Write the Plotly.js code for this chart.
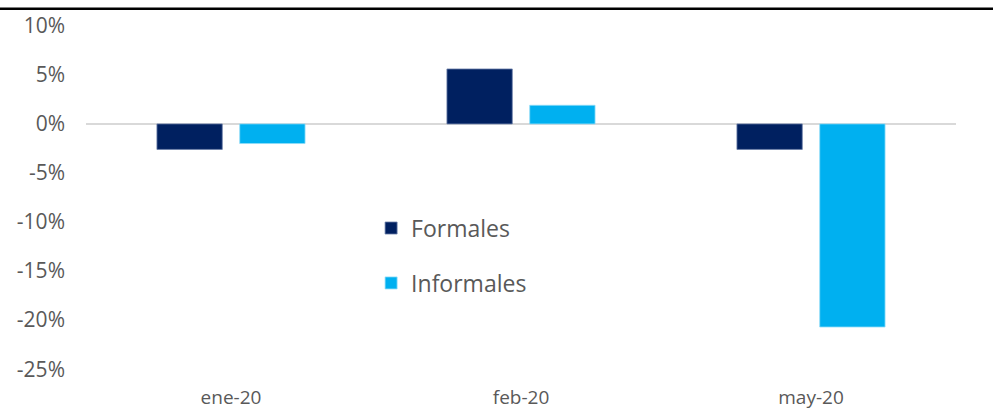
<!DOCTYPE html>
<html>
<head>
<meta charset="utf-8">
<script src="https://cdn.plot.ly/plotly-3.0.1.min.js"></script>
<style>html,body{margin:0;padding:0;background:#fff;}#chart{width:997px;height:411px;}</style>
</head>
<body>
<div id="chart"></div>
<script>
var categories = ["ene-20", "feb-20", "may-20"];
var formales = [-2.6, 5.6, -2.6];
var informales = [-2.0, 1.9, -20.7];
var yTickVals = [10, 5, 0, -5, -10, -15, -20, -25];
var yTickText = ["10%", "5%", "0%", "-5%", "-10%", "-15%", "-20%", "-25%"];

var fontFam = "'Open Sans', 'Noto Sans', sans-serif";

var traces = [
  {type: "bar", name: "Formales", x: categories, y: formales, legendgroup: "a",
   marker: {color: "#002060", line: {color: "#6b7fa8", width: 0.8}}, hoverinfo: "none"},
  {type: "bar", name: "Informales", x: categories, y: informales, legendgroup: "b",
   marker: {color: "#00B0F0", line: {color: "#8fdcf8", width: 0.8}}, hoverinfo: "none"}
];

var layout = {
  width: 997, height: 411,
  margin: {l: 86, r: 41, t: 16, b: 32, pad: 0},
  paper_bgcolor: "#fff", plot_bgcolor: "#fff",
  font: {family: fontFam, color: "#595959", size: 18},
  barmode: "group", bargap: 0.429, bargroupgap: 0.211,
  showlegend: true,
  legend: {x: 0.3277, y: 0.34, xanchor: "left", yanchor: "middle", traceorder: "grouped",
           tracegroupgap: 22, font: {size: 23, color: "#595959", family: fontFam},
           bgcolor: "rgba(0,0,0,0)"},
  xaxis: {type: "category", showgrid: false, zeroline: false, showline: false, ticks: "",
          ticklabelstandoff: 5, tickfont: {size: 19, color: "#595959"}},
  yaxis: {range: [-26, 11], tickvals: yTickVals, ticktext: yTickText, showgrid: false,
          zeroline: true, zerolinecolor: "#d9d9d9", zerolinewidth: 2, showline: false,
          ticks: "", ticklabelstandoff: 20, tickfont: {size: 21, color: "#595959"}},
  shapes: [
    {type: "line", xref: "paper", yref: "paper", x0: -86/870, x1: (993-86)/870,
     y0: (378.8-8.7)/362.8, y1: (378.8-8.7)/362.8, line: {color: "#000", width: 2.5}}
  ]
};

Plotly.newPlot("chart", traces, layout, {displayModeBar: false, staticPlot: true});
</script>
</body>
</html>
